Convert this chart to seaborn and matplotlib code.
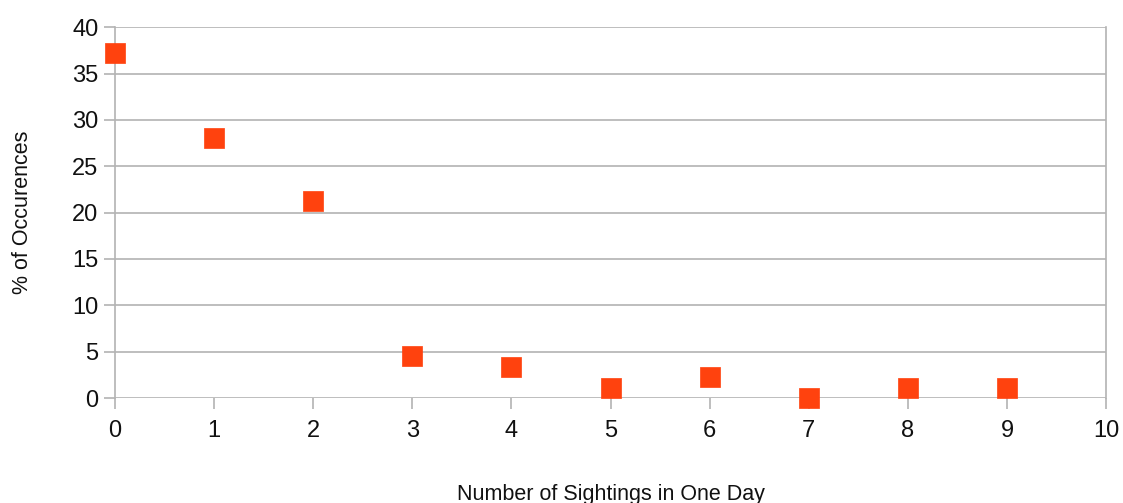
import matplotlib
matplotlib.use("Agg")
import matplotlib.pyplot as plt
import seaborn as sns
import pandas as pd

sightings = [0, 1, 2, 3, 4, 5, 6, 7, 8, 9]
percent = [37.2, 28.0, 21.3, 4.5, 3.4, 1.1, 2.3, 0.0, 1.1, 1.1]

sns.set_theme(style="white")
plt.rcParams['font.family'] = ['Liberation Sans', 'DejaVu Sans']

df = pd.DataFrame({"x": sightings, "y": percent})

fig = plt.figure(figsize=(11.23, 5.03), dpi=100)
ax = fig.add_axes([0.1024, 0.2087, 0.8826, 0.7373])

grid_c = "#b3b3b3"
sns.scatterplot(data=df, x="x", y="y", ax=ax, marker="s", s=215,
                color="#ff420e", edgecolor="#ff420e", linewidth=0.5, zorder=3, clip_on=False)

ax.set_xlim(0, 10)
ax.set_ylim(0, 40)
ax.set_xticks(range(0, 11))
ax.set_yticks(range(0, 41, 5))
ax.yaxis.grid(True, color=grid_c, linewidth=1.2)
ax.xaxis.grid(False)
for side in ["top", "bottom"]:
    ax.spines[side].set_visible(False)
for side in ["left", "right"]:
    ax.spines[side].set_color(grid_c)
    ax.spines[side].set_linewidth(1.2)

ax.tick_params(axis="both", which="major", length=8, width=1.2, color=grid_c,
               labelsize=17, labelcolor="#111111", bottom=True, left=True, pad=4)
ax.tick_params(axis="x", pad=8)

ax.set_xlabel("Number of Sightings in One Day", fontsize=15.5, color="#111111", labelpad=30)
ax.set_ylabel("% of Occurences", fontsize=15.5, color="#111111", labelpad=28)

fig.savefig("out.png", dpi=100)
